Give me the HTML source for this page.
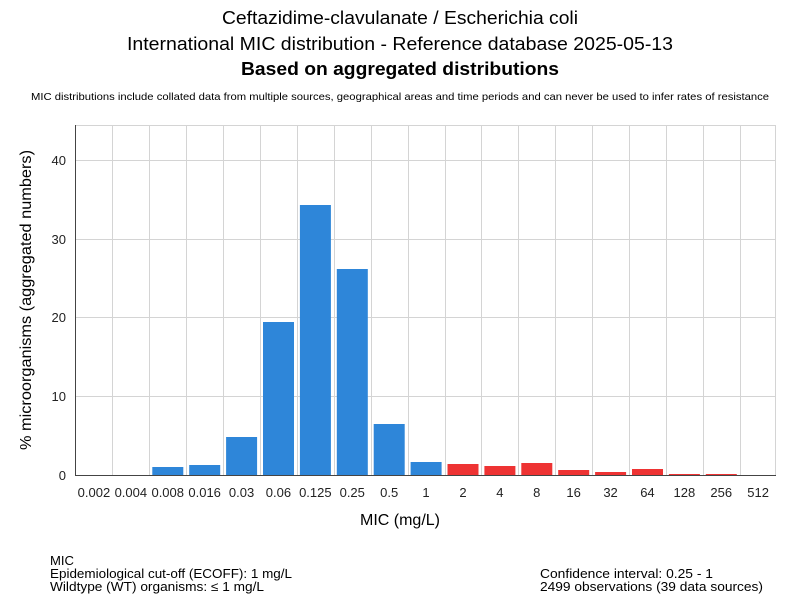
<!DOCTYPE html>
<html><head><meta charset="utf-8"><style>
html,body{margin:0;padding:0;background:#fff;}
svg{display:block;font-family:"Liberation Sans","DejaVu Sans",sans-serif;}
</style></head><body>
<svg width="800" height="600" xmlns="http://www.w3.org/2000/svg">
<rect width="800" height="600" fill="#fff"/>
<text x="400" y="24" font-size="18" text-anchor="middle" fill="#000" textLength="356" lengthAdjust="spacingAndGlyphs">Ceftazidime-clavulanate / Escherichia coli</text>
<text x="400" y="50" font-size="18" text-anchor="middle" fill="#000" textLength="546" lengthAdjust="spacingAndGlyphs">International MIC distribution - Reference database 2025-05-13</text>
<text x="400" y="75" font-size="18" font-weight="bold" text-anchor="middle" fill="#000" textLength="318" lengthAdjust="spacingAndGlyphs">Based on aggregated distributions</text>
<text x="400" y="100" font-size="10.5" text-anchor="middle" fill="#000" textLength="738" lengthAdjust="spacingAndGlyphs">MIC distributions include collated data from multiple sources, geographical areas and time periods and can never be used to infer rates of resistance</text>
<g stroke="#d4d4d4" stroke-width="1">
<line x1="75.5" y1="125.5" x2="776" y2="125.5"/>
<line x1="75.5" y1="160.5" x2="776" y2="160.5"/>
<line x1="75.5" y1="239.5" x2="776" y2="239.5"/>
<line x1="75.5" y1="317.5" x2="776" y2="317.5"/>
<line x1="75.5" y1="396.5" x2="776" y2="396.5"/>
<line x1="775.5" y1="125.5" x2="775.5" y2="475"/>
<g id="vg"></g>
</g>
<g id="bars"></g>
<line x1="75.5" y1="125" x2="75.5" y2="475.5" stroke="#444"/>
<line x1="75" y1="475.5" x2="776" y2="475.5" stroke="#444"/>
<g font-size="13" fill="#222" text-anchor="end">
<text x="66" y="165">40</text><text x="66" y="244">30</text><text x="66" y="322">20</text><text x="66" y="401">10</text><text x="66" y="480">0</text>
</g>
<text transform="translate(31,300) rotate(-90)" font-size="16" text-anchor="middle" fill="#000" textLength="300" lengthAdjust="spacingAndGlyphs">% microorganisms (aggregated numbers)</text>
<g id="xl" font-size="13" fill="#222" text-anchor="middle"></g>
<text x="400" y="525" font-size="16" text-anchor="middle" fill="#000">MIC (mg/L)</text>
<g font-size="13" fill="#000">
<text x="50" y="565" textLength="24" lengthAdjust="spacingAndGlyphs">MIC</text>
<text x="50" y="578" textLength="242" lengthAdjust="spacingAndGlyphs">Epidemiological cut-off (ECOFF): 1 mg/L</text>
<text x="50" y="591" textLength="214" lengthAdjust="spacingAndGlyphs">Wildtype (WT) organisms: ≤ 1 mg/L</text>
<text x="540" y="578" textLength="173" lengthAdjust="spacingAndGlyphs">Confidence interval: 0.25 - 1</text>
<text x="540" y="591" textLength="223" lengthAdjust="spacingAndGlyphs">2499 observations (39 data sources)</text>
</g>
<script>
var labs=["0.002","0.004","0.008","0.016","0.03","0.06","0.125","0.25","0.5","1","2","4","8","16","32","64","128","256","512"];
var tops=[475,475,467,465,437,322,205,269,424,462,464,466,463,470,472,469,474,474,475];
var x0=75.5,st=36.9,ns="http://www.w3.org/2000/svg";
var vg=document.getElementById("vg"),bars=document.getElementById("bars"),xl=document.getElementById("xl");
for(var i=0;i<19;i++){
 var b=x0+i*st;
 if(i>0){var l=document.createElementNS(ns,"line");var xx=Math.round(b)+0.5;l.setAttribute("x1",xx);l.setAttribute("x2",xx);l.setAttribute("y1",125.5);l.setAttribute("y2",475);vg.appendChild(l);}
 if(tops[i]<475){var r=document.createElementNS(ns,"rect");r.setAttribute("x",b+3);r.setAttribute("width",31);r.setAttribute("y",tops[i]);r.setAttribute("height",475-tops[i]);r.setAttribute("fill",i<=9?"#2e86d9":"#ee3333");bars.appendChild(r);}
 var t=document.createElementNS(ns,"text");t.setAttribute("x",b+st/2);t.setAttribute("y",497);t.textContent=labs[i];xl.appendChild(t);
}
</script>
</svg>
</body></html>
